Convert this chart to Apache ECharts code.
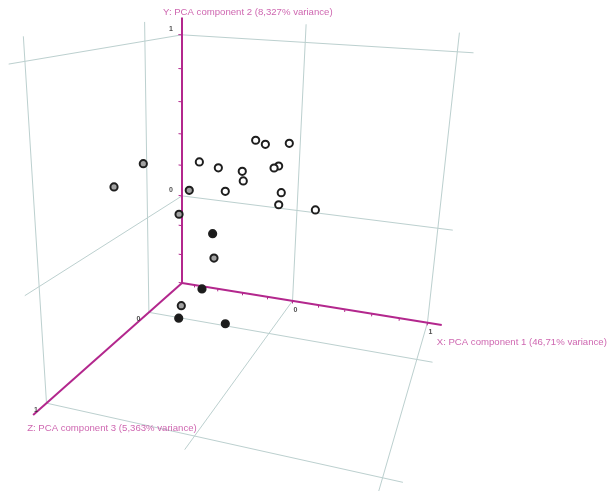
<!DOCTYPE html>
<html>
<head>
<meta charset="utf-8">
<script src="https://cdn.jsdelivr.net/npm/echarts@6/dist/echarts.min.js"></script>
<style>
  html, body { margin: 0; padding: 0; background: #ffffff; }
  #chart { width: 608px; height: 491px; }
</style>
</head>
<body>
<div id="chart"></div>
<script>
// PCA scores for each sample (components 1, 2 and 3) and the sample group
const pc1 = [-0.567, -0.614, -0.396, -0.405, -0.282, -0.448,
             -0.344, -0.467, -0.408, -0.102,
             -0.493, -0.262, -0.244, -0.056, -0.408, -0.073, -0.072, 0.157, 0.206, 0.040, 0.158, -0.006, 0.306];
const pc2 = [0.488, 0.424, 0.316, 0.220, -0.075, -0.329,
             0.020, -0.365, -0.348, -0.333,
             0.381, 0.420, 0.326, 0.398, 0.166, 0.557, 0.503, 0.571, 0.538, 0.407, 0.345, 0.143, 0.209];
const pc3 = [0.55, 0.75, 0.35, 0.45, 0.25, 0.35,
             0.15, 0.05, 0.45, 0.45,
             0.05, 0.25, -0.05, 0.35, -0.15, 0.15, 0.00, 0.20, 0.55, 0.05, 0.30, -0.10, 0.10];
const group = ['B', 'B', 'B', 'B', 'B', 'B',
               'C', 'C', 'C', 'C',
               'A', 'A', 'A', 'A', 'A', 'A', 'A', 'A', 'A', 'A', 'A', 'A', 'A'];

// Axis extents, tick step and labelled tick values
const axisMin = [-0.9, -0.6, -0.45];
const axisMax = [1.1, 1.1, 1.1];
const tickStep = 0.2;
const labelledTicks = [0, 1];
const axisNames = [
  'X: PCA component 1 (46,71% variance)',
  'Y: PCA component 2 (8,327% variance)',
  'Z: PCA component 3 (5,363% variance)'
];

// Styling
const fillByGroup = { A: '#ffffff', B: '#a2a2a2', C: '#1b1b1b' };
const gridColor = '#bcd0cf';
const axisColor = '#b3278d';
const nameColor = '#c2409c';

// Perspective camera: homogeneous 3x4 matrix acting on coordinates measured from the axis minimum corner
const camera = [
  [108.94, -11.22, -102.48, 182],
  [5.59, -157.25, 4.56, 283],
  [-0.04737, -0.06167, -0.19424, 1]
];

function depth(x, y, z) {
  const u = x - axisMin[0], v = y - axisMin[1], w = z - axisMin[2];
  return camera[2][0] * u + camera[2][1] * v + camera[2][2] * w + camera[2][3];
}
function project(x, y, z) {
  const u = x - axisMin[0], v = y - axisMin[1], w = z - axisMin[2];
  const d = camera[2][0] * u + camera[2][1] * v + camera[2][2] * w + camera[2][3];
  return [
    (camera[0][0] * u + camera[0][1] * v + camera[0][2] * w + camera[0][3]) / d,
    (camera[1][0] * u + camera[1][1] * v + camera[1][2] * w + camera[1][3]) / d
  ];
}
function seg(a, b) { return { coords: [project(a[0], a[1], a[2]), project(b[0], b[1], b[2])] }; }

const [x0, y0, z0] = axisMin;
const [x1, y1, z1] = axisMax;

// Grid lines on the three back planes
const gridLines = [];
labelledTicks.forEach(t => {
  // back wall (z = min)
  gridLines.push(seg([t, y0, z0], [t, y1, z0]));
  gridLines.push(seg([x0, t, z0], [x1, t, z0]));
  // side wall (x = min)
  gridLines.push(seg([x0, y0, t], [x0, y1, t]));
  gridLines.push(seg([x0, t, z0], [x0, t, z1]));
  // floor (y = min)
  gridLines.push(seg([t, y0, z0], [t, y0, z1]));
  gridLines.push(seg([x0, y0, t], [x1, y0, t]));
});

// Axis lines from the minimum corner
const axisLines = [
  seg([x0, y0, z0], [x1, y0, z0]),
  seg([x0, y0, z0], [x0, y1, z0]),
  seg([x0, y0, z0], [x0, y0, z1])
];

// Minor tick marks on the X and Y axes
function tickValues(min, max) {
  const out = [];
  for (let k = Math.ceil(min / tickStep - 1e-9); k * tickStep <= max - tickStep * 0.25; k++) {
    out.push(Math.round(k * tickStep * 100) / 100);
  }
  return out;
}
const tickLines = [];
tickValues(x0, x1).forEach(t => tickLines.push(seg([t, y0, z0], [t, y0 - 0.018, z0])));
tickValues(y0, y1).forEach(t => tickLines.push(seg([x0, t, z0], [x0 - 0.028, t, z0])));

// Tick labels
const tickLabelData = [];
labelledTicks.forEach(t => {
  tickLabelData.push({ value: project(t, y0, z0), name: String(t), label: { offset: [3, 9.5] } });
  tickLabelData.push({ value: project(x0, t, z0), name: String(t), label: { offset: [-11, -6] } });
  tickLabelData.push({ value: project(x0, y0, t), name: String(t), label: { offset: [-10.5, 7] } });
});

// Axis titles
const nameData = [
  { value: project(x1, y0, z0), name: axisNames[0], label: { align: 'left', offset: [-5, 17] } },
  { value: project(x0, y1, z0), name: axisNames[1], label: { align: 'left', offset: [-19, -5] } },
  { value: project(x0, y0, z1), name: axisNames[2], label: { align: 'left', offset: [-6, 13] } }
];

// Sample points, far ones first
const order = pc1.map((_, i) => i).sort((i, j) => depth(pc1[j], pc2[j], pc3[j]) - depth(pc1[i], pc2[i], pc3[i]));
const pointData = order.map(i => ({
  value: project(pc1[i], pc2[i], pc3[i]),
  itemStyle: { color: fillByGroup[group[i]] }
}));

const chart = echarts.init(document.getElementById('chart'), null, { renderer: 'canvas' });
chart.setOption({
  animation: false,
  backgroundColor: '#ffffff',
  grid: { left: 0, right: 0, top: 0, bottom: 0 },
  xAxis: { type: 'value', min: 0, max: 608, show: false },
  yAxis: { type: 'value', min: 0, max: 491, inverse: true, show: false },
  series: [
    {
      type: 'lines', coordinateSystem: 'cartesian2d', silent: true, z: 1,
      lineStyle: { color: gridColor, width: 1, opacity: 1 },
      data: gridLines
    },
    {
      type: 'lines', coordinateSystem: 'cartesian2d', silent: true, z: 2,
      lineStyle: { color: axisColor, width: 2, opacity: 1 },
      data: axisLines
    },
    {
      type: 'lines', coordinateSystem: 'cartesian2d', silent: true, z: 2,
      lineStyle: { color: axisColor, width: 1, opacity: 1 },
      data: tickLines
    },
    {
      type: 'scatter', silent: true, z: 3,
      symbolSize: 1, itemStyle: { color: 'rgba(0,0,0,0)' },
      label: {
        show: true, position: 'inside', formatter: '{b}',
        fontFamily: 'Liberation Sans, Arial, sans-serif', fontSize: 7, fontWeight: 'bold', color: '#222222'
      },
      data: tickLabelData
    },
    {
      type: 'scatter', silent: true, z: 3,
      symbolSize: 1, itemStyle: { color: 'rgba(0,0,0,0)' },
      label: {
        show: true, position: 'inside', formatter: '{b}', verticalAlign: 'middle',
        fontFamily: 'Liberation Sans, Arial, sans-serif', fontSize: 9.6, color: nameColor
      },
      data: nameData
    },
    {
      type: 'scatter', silent: true, z: 4,
      symbol: 'circle', symbolSize: 7.2,
      itemStyle: { borderColor: '#1e1e1e', borderWidth: 2, opacity: 1 },
      data: pointData
    }
  ]
});
</script>
</body>
</html>
